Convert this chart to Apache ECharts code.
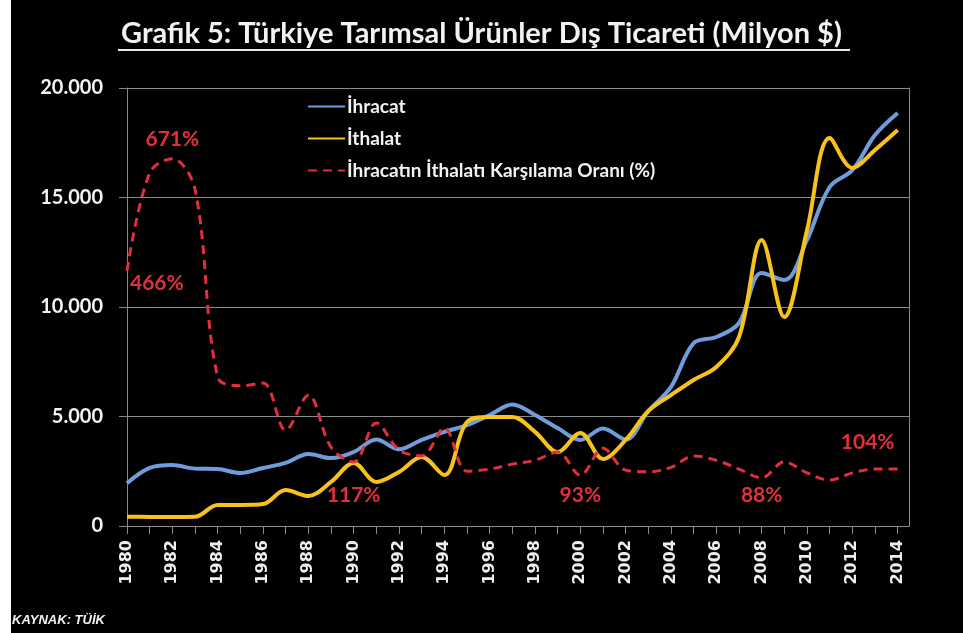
<!DOCTYPE html>
<html>
<head>
<meta charset="utf-8">
<script src="https://cdn.jsdelivr.net/npm/echarts@6/dist/echarts.min.js"></script>
<style>
  html, body { margin: 0; padding: 0; background: #fff; }
  #chart { width: 963px; height: 633px; }
</style>
</head>
<body>
<div id="chart"></div>
<script>
var years = [1980, 1981, 1982, 1983, 1984, 1985, 1986, 1987, 1988, 1989,
             1990, 1991, 1992, 1993, 1994, 1995, 1996, 1997, 1998, 1999,
             2000, 2001, 2002, 2003, 2004, 2005, 2006, 2007, 2008, 2009,
             2010, 2011, 2012, 2013, 2014];
// milyon $
var ihracat = [1950, 2650, 2780, 2620, 2600, 2420, 2650, 2880, 3290, 3100,
               3380, 3950, 3500, 3930, 4300, 4610, 5070, 5550, 5070, 4470,
               3930, 4450, 3950, 5250, 6350, 8350, 8630, 9270, 11550, 11230,
               13060, 15480, 16250, 17850, 18860];
var ithalat = [420, 415, 410, 420, 960, 960, 1000, 1640, 1370, 2010,
               2880, 2010, 2470, 3150, 2330, 4750, 4980, 4980, 4300, 3380,
               4250, 3060, 3930, 5250, 5980, 6670, 7260, 8630, 13060, 9540,
               13500, 17720, 16350, 17170, 18080];
// ihracatin ithalati karsilama orani (%)
var oran = [466, 645, 671, 615, 272, 256, 261, 175, 239, 144,
            117, 188, 139, 128, 179, 100, 104, 113, 120, 135,
            93, 142, 102, 99, 107, 128, 120, 104, 88, 117,
            97, 84, 97, 104, 104];
var etiketYillar = [1980, 1982, 1990, 2000, 2008, 2014];
var yTicks = [0, 5000, 10000, 15000, 20000];

var grid = '#8a8a8a';
var kirmizi = '#e0303c';

function binlik(v) {
    return String(v).replace(/\B(?=(\d{3})+(?!\d))/g, '.');
}

// label placement for the few annotated points
var etiketYer = {
    1980: { position: 'right', offset: [-3, 12] },
    1982: { position: 'top', distance: 8 },
    1990: { position: 'bottom', distance: 22 },
    2000: { position: 'bottom', distance: 9 },
    2008: { position: 'bottom', distance: 6 },
    2014: { position: 'top', offset: [-30, -10] }
};

function ciftler(arr) {
    return years.map(function (y, i) { return [y, arr[i]]; });
}

var oranData = years.map(function (y, i) {
    if (etiketYillar.indexOf(y) < 0) return [y, oran[i]];
    var l = etiketYer[y];
    return {
        value: [y, oran[i]],
        symbol: 'circle',
        symbolSize: 2,
        itemStyle: { color: 'rgba(0,0,0,0)', borderWidth: 0 },
        label: {
            show: true,
            position: l.position,
            distance: l.distance || 5,
            offset: l.offset || [0, 0],
            formatter: function (p) { return p.value[1] + '%'; },
            color: kirmizi,
            fontFamily: 'Lato',
            fontWeight: 'bold',
            fontSize: 21
        }
    };
});

var chart = echarts.init(document.getElementById('chart'));
var option = {
    backgroundColor: '#000',
    animation: false,
    title: {
        text: 'Grafik 5: Türkiye Tarımsal Ürünler Dış Ticareti (Milyon $)',
        left: 'center',
        top: 14,
        textStyle: {
            color: '#f2f2f2',
            fontFamily: 'Lato',
            fontWeight: 'bold',
            fontSize: 29
        }
    },
    graphic: [
        { type: 'rect', shape: { x: 0, y: 0, width: 11, height: 633 }, style: { fill: '#fff' } },
        { type: 'line', shape: { x1: 118, y1: 50, x2: 850, y2: 50 }, style: { stroke: '#e8e8e8', lineWidth: 2 } },
        {
            type: 'text', left: 12, top: 614,
            style: { text: 'KAYNAK: TÜİK', fill: '#f2f2f2', font: 'italic bold 13px "Liberation Sans Narrow", "Liberation Sans", sans-serif' }
        }
    ],
    legend: {
        orient: 'vertical',
        left: 302,
        top: 92,
        itemGap: 13,
        itemWidth: 37,
        itemHeight: 14,
        itemStyle: { opacity: 0 },
        textStyle: {
            color: '#f2f2f2',
            fontFamily: 'Lato',
            fontWeight: 'bold',
            fontSize: 19,
            padding: [0, 0, 0, -3]
        },
        data: ['İhracat', 'İthalat', 'İhracatın İthalatı Karşılama Oranı (%)']
    },
    grid: { left: 127, right: 54, top: 88, bottom: 107 },
    xAxis: {
        type: 'value',
        min: 1980,
        max: 2014.5,
        interval: 1,
        splitLine: { show: false },
        axisLine: { lineStyle: { color: grid, width: 1 } },
        axisTick: { length: 8, lineStyle: { color: grid } },
        axisLabel: {
            rotate: 90,
            margin: 14,
            color: '#eeeeee',
            fontFamily: 'DejaVu Sans',
            fontWeight: 'bold',
            fontSize: 16,
            showMaxLabel: false,
            formatter: function (v) { return v % 2 === 0 ? String(v) : ''; }
        }
    },
    yAxis: [{
        type: 'value',
        min: yTicks[0],
        max: yTicks[yTicks.length - 1],
        interval: yTicks[1] - yTicks[0],
        axisLine: { show: true, lineStyle: { color: grid } },
        axisTick: { show: true, length: 8, lineStyle: { color: grid } },
        splitLine: { lineStyle: { color: grid, width: 1 } },
        axisLabel: {
            margin: 24,
            color: '#f2f2f2',
            fontFamily: 'Lato',
            fontWeight: 'bold',
            fontSize: 20,
            formatter: binlik
        }
    }, {
        type: 'value',
        min: 0,
        max: 800,
        position: 'right',
        axisLine: { show: true, lineStyle: { color: grid } },
        axisTick: { show: false },
        axisLabel: { show: false },
        splitLine: { show: false }
    }],
    series: [{
        name: 'İhracat',
        type: 'line',
        smooth: 0.35,
        symbol: 'none',
        color: '#6f9ddb',
        lineStyle: { width: 4, color: '#6f9ddb' },
        data: ciftler(ihracat)
    }, {
        name: 'İthalat',
        type: 'line',
        smooth: 0.35,
        symbol: 'none',
        color: '#f7c21b',
        lineStyle: { width: 4, color: '#f7c21b' },
        data: ciftler(ithalat)
    }, {
        name: 'İhracatın İthalatı Karşılama Oranı (%)',
        type: 'line',
        yAxisIndex: 1,
        smooth: 0.35,
        symbol: 'none',
        color: kirmizi,
        lineStyle: { width: 3, color: kirmizi, type: [9, 6] },
        data: oranData
    }]
};
chart.setOption(option);
</script>
</body>
</html>
